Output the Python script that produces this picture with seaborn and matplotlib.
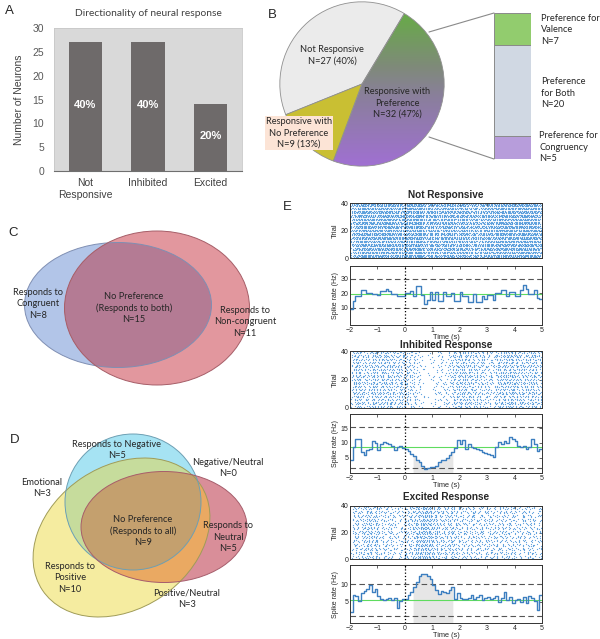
import numpy as np
import pandas as pd
import matplotlib
matplotlib.use("Agg")
import matplotlib.pyplot as plt
import seaborn as sns
from matplotlib.patches import Ellipse
from matplotlib.colors import LinearSegmentedColormap

sns.set_style("white")
plt.rcParams["font.family"] = ["Liberation Sans", "DejaVu Sans"]
CAL = ["Lato", "DejaVu Sans"]

# ---- A: directionality
direction_labels = ["Not\nResponsive", "Inhibited", "Excited"]
direction_counts = [27, 27, 14]
direction_pct = ["40%", "40%", "20%"]

# ---- B: pie + preference breakdown
pie_names = ["Not Responsive", "No Preference", "Preference"]
pie_counts = [27, 9, 32]
pie_texts = ["Not Responsive\nN=27 (40%)",
             "Responsive with\nNo Preference\nN=9 (13%)",
             "Responsive with\nPreference\nN=32 (47%)"]
pref_names = ["Congruency", "Both", "Valence"]
pref_counts = [5, 20, 7]
pref_texts = ["Preference for\nCongruency\nN=5",
              "Preference\nfor Both\nN=20",
              "Preference for\nValence\nN=7"]

# ---- C / D venn labels
venn_c_texts = ["Responds to\nCongruent\nN=8",
                "No Preference\n(Responds to both)\nN=15",
                "Responds to\nNon-congruent\nN=11"]
venn_d_texts = ["Responds to Negative\nN=5", "Negative/Neutral\nN=0",
                "Emotional\nN=3", "No Preference\n(Responds to all)\nN=9",
                "Responds to\nNeutral\nN=5", "Responds to\nPositive\nN=10",
                "Positive/Neutral\nN=3"]

# ---- E: PSTH, 0.1 s bins from -2 to 5 s
bin_start = np.round(np.arange(-2.0, 5.0, 0.1), 1)
rate_not = [9.3, 14.6, 18.5, 18.5, 22.4, 22.4, 20.3, 20.3, 19.9, 19.9,
            19.0, 21.3, 21.3, 23.3, 21.5, 19.4, 19.4, 18.5, 18.5, 18.0,
            20.3, 20.3, 21.3, 18.5, 25.4, 25.4, 19.0, 12.8, 15.7, 20.8,
            15.7, 20.8, 15.0, 15.0, 21.0, 18.5, 18.5, 20.5, 15.0, 15.0,
            20.8, 18.5, 18.5, 14.4, 14.4, 19.7, 14.0, 14.0, 18.5, 16.2,
            19.0, 19.0, 15.7, 20.3, 20.3, 22.0, 22.0, 18.5, 20.8, 20.8,
            18.5, 18.5, 22.0, 25.8, 23.0, 19.7, 19.7, 22.0, 16.7, 16.0]
rate_inh = [4.0, 8.5, 11.5, 11.3, 7.0, 6.0, 7.5, 8.0, 10.5, 10.0,
            7.5, 9.5, 10.3, 10.0, 9.5, 9.0, 7.5, 8.5, 9.0, 8.3,
            8.0, 7.3, 6.3, 5.5, 4.3, 3.3, 2.2, 1.2, 1.5, 1.8,
            1.7, 2.2, 3.3, 4.0, 4.3, 5.0, 5.8, 6.8, 8.2, 11.0,
            9.5, 11.0, 8.0, 9.8, 8.5, 8.2, 7.8, 7.5, 7.0, 6.5,
            6.2, 5.8, 5.3, 8.5, 10.3, 9.8, 10.5, 10.0, 12.0, 11.5,
            10.5, 8.8, 8.5, 9.0, 8.0, 8.5, 11.3, 9.5, 7.2, 8.0]
rate_exc = [2.2, 6.9, 6.7, 5.3, 7.4, 8.0, 8.8, 9.7, 7.8, 8.8,
            6.6, 5.7, 5.5, 5.7, 6.2, 5.6, 6.0, 3.1, 5.3, 5.7,
            5.7, 6.9, 7.8, 9.2, 10.7, 12.5, 13.0, 13.0, 12.5, 11.6,
            9.7, 8.5, 7.2, 8.1, 7.8, 7.4, 8.3, 9.4, 5.7, 7.4,
            6.2, 5.9, 5.7, 6.2, 6.9, 5.7, 6.4, 6.9, 5.5, 6.2,
            6.4, 5.7, 6.2, 6.6, 5.0, 6.2, 7.8, 5.5, 6.4, 4.7,
            5.5, 5.9, 5.0, 6.4, 4.7, 6.6, 6.2, 5.3, 2.6, 6.9]
unit_titles = ["Not Responsive", "Inhibited Response", "Excited Response"]
unit_rates = [rate_not, rate_inh, rate_exc]
unit_mean = [19.5, 8.5, 5.4]
unit_upper = [30, 15.5, 10]
unit_lower = [10, 1.5, 0.9]
unit_ylim = [(-1.7, 38.8), (-0.3, 19.9), (-1.1, 15.6)]
unit_yticks = [[10, 20, 30], [5, 10, 15], [5, 10]]
unit_window = [None, (0.3, 1.75), (0.3, 1.75)]
n_trials = 40

W, H = 600, 639
fig = plt.figure(figsize=(W / 100, H / 100), dpi=100)


def px_axes(l, t, r, b):
    return fig.add_axes([l / W, 1 - b / H, (r - l) / W, (b - t) / H])


# ================= A =================
axA = px_axes(54, 28, 242, 171)
dfA = pd.DataFrame({"group": direction_labels, "count": direction_counts})
sns.barplot(data=dfA, x="group", y="count", color="#6e6a6a", saturation=1,
            width=0.53, edgecolor="none", ax=axA)
axA.set_facecolor("#d9d9d9")
axA.set_xlim(-0.5, 2.5)
axA.set_ylim(0, 30)
axA.set_yticks(range(0, 31, 5))
axA.tick_params(axis="y", labelsize=7.5, colors="#595959", length=0, pad=7)
axA.tick_params(axis="x", labelsize=7.5, colors="#404040", length=0, pad=5)
axA.set_xlabel("")
axA.set_ylabel("Number of Neurons", fontsize=7.5, color="#404040", labelpad=6)
for s in ["left", "top", "right"]:
    axA.spines[s].set_color("#c8c8c8")
    axA.spines[s].set_linewidth(0.6)
axA.spines["bottom"].set_color("#6f6f6f")
for i, (c, p) in enumerate(zip(direction_counts, direction_pct)):
    axA.text(i, c / 2 + 0.4, p, ha="center", va="center", color="white",
             fontsize=8, fontweight="bold")

# ================= B pie =================
axP = px_axes(279, 1, 445, 167)
wedges, _ = axP.pie(pie_counts, startangle=59, counterclock=True,
                    colors=["#ebebeb", "#c9bf33", "none"],
                    wedgeprops=dict(edgecolor="#8f8f8f", linewidth=0.6))
grad = np.linspace(0, 1, 256).reshape(-1, 1)
pref_cmap = LinearSegmentedColormap.from_list(
    "pref", [(0, "#a070d2"), (0.42, "#8a7f9c"), (0.6, "#7f8a7a"), (1, "#62b23c")])
im = axP.imshow(grad, extent=(-1, 1, -1, 1), origin="lower", cmap=pref_cmap,
                aspect="auto", zorder=0.5)
im.set_clip_path(wedges[2])
axP.set_xlim(-1.01, 1.01)
axP.set_ylim(-1.01, 1.01)
axP.axis("off")

# ================= B stacked bar =================
axS = px_axes(494, 13, 531, 159)
bar_cols = ["#b79ddb", "#d0d8e3", "#92cc6e"]
bottom = 0
for cnt, col in zip(pref_counts, bar_cols):
    axS.bar(0, cnt, bottom=bottom, width=1, color=col, edgecolor="#8a8a8a",
            linewidth=0.7)
    bottom += cnt
axS.set_xlim(-0.5, 0.5)
axS.set_ylim(0, sum(pref_counts))
axS.axis("off")

# ================= E =================
rows = [((203, 258), (266, 325)), ((351, 408), (414, 473)), ((506, 559), (565, 623))]
edges = np.round(np.arange(-2.0, 5.01, 0.1), 1)


def raster_from_rate(rate):
    # the raster cannot be read dot by dot: spikes are placed deterministically
    # so that their density per trial follows the PSTH
    cum = np.concatenate([[0], np.cumsum(np.array(rate) * 0.1)])
    xs, ys = [], []
    for k in range(n_trials):
        n = np.arange(int(cum[-1]) + 2)
        h = np.sin(n * 12.9898 + (k + 1) * 78.233) * 43758.5453
        w = h - np.floor(h)
        tgt = n + w
        tgt = tgt[tgt < cum[-1]]
        xs.append(np.interp(tgt, cum, edges))
        ys.append(np.full(len(tgt), k + 0.5))
    return pd.DataFrame({"t": np.concatenate(xs), "trial": np.concatenate(ys)})


for i in range(3):
    (rt, rb), (pt, pb) = rows[i]
    axR = px_axes(350, rt, 542, rb)
    dfR = raster_from_rate(unit_rates[i])
    sns.scatterplot(data=dfR, x="t", y="trial", s=0.8, marker="o",
                    color="#4592d8", alpha=0.85, linewidth=0, ax=axR)
    axR.axvline(0, color="black", ls=":", lw=0.9)
    axR.set_xlim(-2, 5)
    axR.set_ylim(0, 40)
    axR.set_yticks([0, 20, 40])
    axR.set_xticks(range(-2, 6))
    axR.set_xticklabels([])
    axR.set_xlabel("")
    axR.set_ylabel("Trial", fontsize=5.5, labelpad=1)

    axH = px_axes(350, pt, 542, pb)
    rate = np.array(unit_rates[i])
    dfH = pd.DataFrame({"t": edges, "rate": np.append(rate, rate[-1])})
    lo = unit_ylim[i][0]
    if unit_window[i] is not None:
        a, b = unit_window[i]
        tt = np.linspace(a, b, 400)
        idx = np.clip(np.floor((tt + 2) / 0.1 + 1e-9).astype(int), 0, len(rate) - 1)
        axH.fill_between(tt, lo, rate[idx], color="#e6e6e6", lw=0, zorder=0)
    axH.axhline(unit_upper[i], color="#555555", ls=(0, (5, 3)), lw=0.8)
    axH.axhline(unit_lower[i], color="#555555", ls=(0, (5, 3)), lw=0.8)
    axH.axhline(unit_mean[i], color="#5fdc5f", lw=0.8)
    sns.lineplot(data=dfH, x="t", y="rate", drawstyle="steps-post",
                 color="#3d7fc0", lw=1.0, ax=axH)
    axH.axvline(0, color="black", ls=":", lw=0.9)
    axH.set_xlim(-2, 5)
    axH.set_ylim(*unit_ylim[i])
    axH.set_yticks(unit_yticks[i])
    axH.set_xticks(range(-2, 6))
    axH.set_xlabel("Time (s)", fontsize=5.3, labelpad=0)
    axH.set_ylabel("Spike rate (Hz)", fontsize=5, labelpad=1)
    for ax in (axR, axH):
        ax.tick_params(direction="in", length=2, width=0.5, labelsize=5,
                       top=True, right=True, pad=1.2)
        for s in ax.spines.values():
            s.set_linewidth(0.7)
            s.set_color("#333333")

# ================= overlay: texts, venns, connectors =================
ov = fig.add_axes([0, 0, 1, 1])
ov.set_xlim(0, W)
ov.set_ylim(H, 0)
ov.axis("off")
ov.patch.set_alpha(0)


def ell(cx, cy, w, h, ang=0, **kw):
    return Ellipse((cx, cy), w, h, angle=ang, transform=ov.transData, **kw)


# panel letters
for lab, (x, y) in zip("ABCDE", [(5, 11), (268, 15), (8, 233), (10, 440), (283, 207)]):
    ov.text(x, y, lab, fontsize=9.5, ha="left", va="center")

ov.text(148, 14, "Directionality of neural response", fontsize=7.4,
        family=CAL, color="#404040", ha="center", va="center")

# B texts and connectors
ov.plot([429, 494], [32, 13], color="#8a8a8a", lw=0.8)
ov.plot([429, 494], [137, 159], color="#8a8a8a", lw=0.8)
bkw = dict(fontsize=6.7, family=CAL, color="#262626", linespacing=1.35)
ov.text(332, 55, pie_texts[0], ha="center", va="center", **bkw)
ov.text(299, 133, pie_texts[1], ha="center", va="center",
        bbox=dict(boxstyle="square,pad=0.1", fc="#fce4d6", ec="none"), **bkw)
ov.text(397, 103, pie_texts[2], ha="center", va="center", **bkw)
ov.text(539, 147, pref_texts[0], ha="left", va="center", **bkw)
ov.text(541, 93, pref_texts[1], ha="left", va="center", **bkw)
ov.text(541, 30, pref_texts[2], ha="left", va="center", **bkw)

# C venn
c_blue = ell(118, 305, 187, 125)
ov.add_patch(ell(118, 305, 187, 125, fc="#b2c5e8", ec="none", zorder=1))
ov.add_patch(ell(157, 308, 185, 154, fc="#e2979e", ec="none", zorder=2))
ov_c = ell(157, 308, 185, 154, fc="#b47b94", ec="none", zorder=3)
ov.add_patch(ov_c)
ov_c.set_clip_path(c_blue)
ov.add_patch(ell(118, 305, 187, 125, fill=False, ec="#7f8fb3", lw=0.7, zorder=4))
ov.add_patch(ell(157, 308, 185, 154, fill=False, ec="#a65e68", lw=0.7, zorder=4))
for txt, (x, y) in zip(venn_c_texts, [(38, 304), (134, 308), (245, 322)]):
    ov.text(x, y, txt, ha="center", va="center", zorder=6, **bkw)

# D venn
Y = (121.5, 537.5, 190, 143, -33.7)
C = (133, 502, 136, 136, 0)
R = (164, 527, 166, 111, 0)
ov.add_patch(ell(*Y, fc="#f5eca0", ec="none", zorder=1))
ov.add_patch(ell(*C, fc="#a6e3f3", ec="none", zorder=2))
ov.add_patch(ell(*R, fc="#d98e99", ec="none", zorder=3))
for shape, clip, col, z in [(C, Y, "#c6dc9c", 4), (R, Y, "#eaa962", 5),
                            (R, C, "#c4a06e", 6)]:
    p = ell(*shape, fc=col, ec="none", zorder=z)
    ov.add_patch(p)
    p.set_clip_path(ell(*clip))
for shape, ec in [(Y, "#a09c58"), (C, "#6d9fb3"), (R, "#a65e6c")]:
    ov.add_patch(ell(*shape, fill=False, ec=ec, lw=0.7, zorder=7))
d_pos = [(117, 450), (228, 468), (42, 488), (143, 531), (228, 537),
         (70, 578), (187, 599)]
for txt, (x, y) in zip(venn_d_texts, d_pos):
    ov.text(x, y, txt, ha="center", va="center", zorder=8, **bkw)

# E titles
for t, y in zip(unit_titles, [195, 345, 497]):
    ov.text(446, y, t, ha="center", va="center", fontsize=7.2, fontweight="bold")

fig.savefig("out.png", dpi=100)
